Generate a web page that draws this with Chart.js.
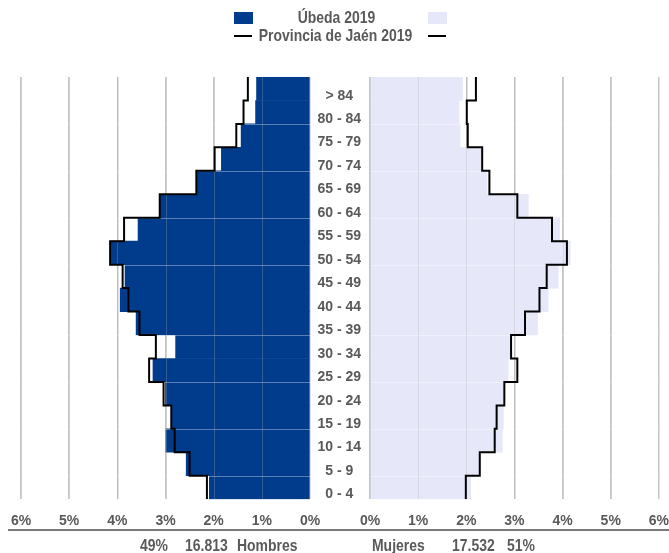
<!DOCTYPE html>
<html>
<head>
<meta charset="utf-8">
<script src="https://cdn.jsdelivr.net/npm/chart.js@4.4.1/dist/chart.umd.min.js"></script>
<style>
  body { margin: 0; width: 669px; height: 553px; position: relative; overflow: hidden; background: #fff;
         font-family: "Liberation Sans", Arial, sans-serif; font-weight: bold;
         font-size: 17px; color: #595959; }
  canvas { position: absolute; left: 0; top: 0; }
  /* the original uses a narrow face: squeeze the html text to match */
  .abs { position: absolute; white-space: nowrap; line-height: 20px; transform: scaleX(0.82); transform-origin: left center; }
  .mid { transform-origin: center center; text-align: center; }
  .box { position: absolute; width: 19px; height: 12px; }
  .dash { position: absolute; width: 18px; height: 2px; background: #000; }
</style>
</head>
<body>
<canvas id="left" width="669" height="553"></canvas>
<canvas id="right" width="669" height="553"></canvas>

<!-- legend -->
<div class="box" style="left:234px;top:12px;background:#003b8c"></div>
<div class="abs mid" id="legUbeda" style="left:256px;top:8px;width:161px"></div>
<div class="box" style="left:428px;top:12px;background:#e6e8fa"></div>
<div class="dash" style="left:234px;top:35px"></div>
<div class="abs mid" id="legJaen" style="left:236px;top:26px;width:199px"></div>
<div class="dash" style="left:428px;top:35px"></div>

<!-- bottom axis line and totals -->
<div style="position:absolute;left:8px;top:529px;width:661px;height:2px;background:#7a7a7a"></div>
<div class="abs" id="pctH" style="left:140px;top:536px"></div>
<div class="abs" id="totH" style="left:185px;top:536px"></div>
<div class="abs" style="left:237px;top:536px">Hombres</div>
<div class="abs" style="left:372px;top:536px">Mujeres</div>
<div class="abs" id="totM" style="left:452px;top:536px"></div>
<div class="abs" id="pctM" style="left:507px;top:536px"></div>

<script>
// age groups, youngest first (bottom of the pyramid)
const ages = ['0 - 4', '5 - 9', '10 - 14', '15 - 19', '20 - 24', '25 - 29', '30 - 34', '35 - 39', '40 - 44',
  '45 - 49', '50 - 54', '55 - 59', '60 - 64', '65 - 69', '70 - 74', '75 - 79', '80 - 84', '> 84'];

// % of total population
const hombresUbeda = [2.09, 2.57, 2.99, 2.87, 3.00, 3.26, 2.79, 3.61, 3.94, 3.84, 4.13, 3.57, 3.12, 2.36, 1.84, 1.43, 1.13, 1.11];
const hombresJaen = [2.14, 2.50, 2.81, 2.88, 3.04, 3.34, 3.20, 3.54, 3.77, 3.89, 4.15, 3.86, 3.12, 2.36, 1.98, 1.53, 1.38, 1.29];
const mujeresUbeda = [2.09, 2.27, 2.75, 2.77, 2.77, 2.87, 2.92, 3.48, 3.70, 3.91, 4.16, 3.94, 3.29, 2.43, 2.32, 1.87, 1.85, 1.92];
const mujeresJaen = [1.99, 2.28, 2.59, 2.63, 2.79, 3.06, 2.93, 3.22, 3.52, 3.67, 4.09, 3.78, 3.06, 2.48, 2.33, 2.03, 2.01, 2.20];

const xTicks = [0, 1, 2, 3, 4, 5, 6];

const serieLocal = 'Úbeda 2019';
const serieProvincia = 'Provincia de Jaén 2019';
const totalHombres = '16.813';
const totalMujeres = '17.532';
const pctHombres = '49%';
const pctMujeres = '51%';

document.getElementById('legUbeda').textContent = serieLocal;
document.getElementById('legJaen').textContent = serieProvincia;
document.getElementById('totH').textContent = totalHombres;
document.getElementById('totM').textContent = totalMujeres;
document.getElementById('pctH').textContent = pctHombres;
document.getElementById('pctM').textContent = pctMujeres;

const fontFamily = '"Liberation Sans", Arial, sans-serif';
const textGray = '#595959';

// turn one value per age group into the corners of a step outline
function stepPoints(values) {
  return values.flatMap((v, i) => [{ x: v, y: i - 0.5 }, { x: v, y: i + 0.5 }]);
}

// faint lines painted over the bars (like the original export)
const overlayGrid = {
  id: 'overlayGrid',
  afterDatasetDraw(chart, args) {
    if (args.meta.type !== 'bar') return;
    const { ctx, chartArea: a, scales: { x, y } } = chart;
    ctx.save();
    ctx.beginPath();
    ctx.rect(a.left, a.top, a.right - a.left, a.bottom - a.top);
    ctx.clip();
    ctx.lineWidth = 1;
    ctx.strokeStyle = 'rgba(255,255,255,0.35)';
    [0.5, 2.5, 4.5, 6.5, 9.5, 11.5, 13.5, 15.5].forEach(v => {
      const py = Math.round(y.getPixelForValue(v)) + 0.5;
      ctx.beginPath();
      ctx.moveTo(a.left, py);
      ctx.lineTo(a.right, py);
      ctx.stroke();
    });
    ctx.strokeStyle = 'rgba(170,170,170,0.3)';
    xTicks.forEach(v => {
      const px = Math.round(x.getPixelForValue(v)) + 0.5;
      ctx.beginPath();
      ctx.moveTo(px, a.top);
      ctx.lineTo(px, a.bottom);
      ctx.stroke();
    });
    ctx.restore();
  }
};

function makeChart(id, barData, lineData, color, left) {
  return new Chart(document.getElementById(id), {
    type: 'bar',
    data: {
      datasets: [
        {
          type: 'bar',
          label: serieLocal,
          data: barData.map((v, i) => ({ x: v, y: i })),
          backgroundColor: color,
          borderWidth: 0,
          barPercentage: 1,
          categoryPercentage: 1,
          indexAxis: 'y',
          order: 1
        },
        {
          type: 'line',
          label: serieProvincia,
          data: stepPoints(lineData),
          borderColor: '#000',
          borderWidth: 2,
          pointRadius: 0,
          tension: 0,
          fill: false,
          indexAxis: 'y',
          order: 0
        }
      ]
    },
    options: {
      indexAxis: 'y',
      responsive: false,
      animation: false,
      devicePixelRatio: 1,
      layout: {
        padding: left ? { top: 77, bottom: 23, left: 21, right: 359 } : { top: 77, bottom: 23, left: 310, right: 10 }
      },
      plugins: { legend: { display: false }, tooltip: { enabled: false } },
      scales: {
        x: {
          type: 'linear',
          min: 0,
          max: 6,
          reverse: left,
          afterBuildTicks: (scale) => { scale.ticks = xTicks.map(v => ({ value: v })); },
          ticks: {
            autoSkip: false,
            maxRotation: 0,
            padding: 0,
            color: textGray,
            font: { family: fontFamily, size: 14, weight: 'bold' },
            callback: (v) => v + '%'
          },
          grid: { color: '#c4c4c4', lineWidth: 1.5, drawTicks: true, tickLength: 14, tickColor: 'rgba(0,0,0,0)' },
          border: { display: false }
        },
        y: {
          type: 'linear',
          display: !left,
          position: 'left',
          min: -0.5,
          max: 17.5,
          offset: false,
          afterBuildTicks: (scale) => { scale.ticks = ages.map((_, i) => ({ value: i })); },
          afterFit: (scale) => { if (!left) scale.width = 60; },
          ticks: {
            autoSkip: false,
            crossAlign: 'center',
            padding: 9,
            labelOffset: 7,
            color: textGray,
            font: { family: fontFamily, size: 14, weight: 'bold' },
            callback: (v) => ages[v]
          },
          grid: { display: false, drawTicks: false },
          border: { display: false }
        }
      }
    },
    plugins: [overlayGrid]
  });
}

makeChart('left', hombresUbeda, hombresJaen, '#003b8c', true);
makeChart('right', mujeresUbeda, mujeresJaen, '#e6e8fa', false);
</script>
</body>
</html>
